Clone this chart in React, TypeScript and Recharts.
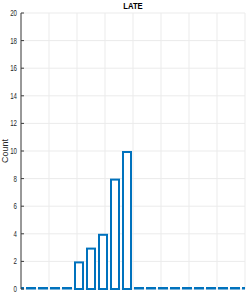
import React from 'react';
import { BarChart, Bar, XAxis, YAxis, CartesianGrid, Label } from 'recharts';

const binCenters = [-0.5, 2.5, 5.5, 8.5, 11.5, 14.5, 17.5, 20.5, 23.5, 26.5, 29.5, 32.5, 35.5, 38.5, 41.5, 44.5, 47.5, 50.5, 53.5, 56.5];
const counts = [0, 0, 0, 0, 0, 2, 3, 4, 8, 10, 0, 0, 0, 0, 0, 0, 0, 0, 0, 0];
const xTicks = [0, 7, 14, 21, 28, 35, 42, 49, 56];
const yTicks = [0, 2, 4, 6, 8, 10, 12, 14, 16, 18, 20];
const title = 'LATE';
const yLabel = 'Count';

const data = binCenters.map((c, i) => ({ x: c, count: counts[i] }));

const BLUE = '#0072BD';
const AXIS = '#3c3c3c';
const FONT = "'Liberation Sans', Arial, sans-serif";

const BarShape = (props: any) => {
  const { x, y, width, height } = props;
  if (!(height > 0.5)) {
    return <rect x={x} y={y - 2} width={width} height={2.5} fill={BLUE} />;
  }
  return (
    <rect x={x + 1} y={y + 1} width={width - 2} height={height - 1} fill="#ffffff" stroke={BLUE} strokeWidth={2} />
  );
};

const LeftTick = (props: any) => {
  const { x, y, payload } = props;
  const ax = x + 4;
  return (
    <g>
      <line x1={ax} x2={ax + 3} y1={y} y2={y} stroke={AXIS} strokeWidth={1} />
      <text
        transform={`translate(${x},${y + 3}) scale(0.68,1)`}
        textAnchor="end"
        fontSize={9}
        fontFamily={FONT}
        fill="#262626"
      >
        {payload.value}
      </text>
    </g>
  );
};

const RightTick = (props: any) => {
  const { x, y } = props;
  return <line x1={x - 3} x2={x} y1={y} y2={y} stroke={AXIS} strokeWidth={1} />;
};

const TopTick = (props: any) => {
  const { x, y } = props;
  return <line x1={x} x2={x} y1={y} y2={y + 3} stroke={AXIS} strokeWidth={1} />;
};

const BottomTick = (props: any) => {
  const { x, y } = props;
  return <line x1={x} x2={x} y1={y - 3} y2={y} stroke={AXIS} strokeWidth={1} />;
};

const YLabelContent = (props: any) => {
  const vb = props.viewBox || { x: 0, y: 0, width: 0, height: 0 };
  const cx = 7.5;
  const cy = vb.y + vb.height / 2;
  return (
    <text
      x={cx}
      y={cy}
      transform={`rotate(-90, ${cx}, ${cy})`}
      textAnchor="middle"
      fontSize={9}
      fontFamily={FONT}
      fill="#262626"
    >
      {yLabel}
    </text>
  );
};

export default function App() {
  return (
    <div style={{ position: 'absolute', left: 0, top: 0, width: 246, height: 294, background: '#fff' }}>
      <BarChart
        width={246}
        height={294}
        data={data}
        margin={{ top: 13, right: 1, bottom: 5, left: 0 }}
        barSize={10}
      >
        <CartesianGrid stroke="#ebebeb" strokeWidth={1} horizontalValues={yTicks} verticalValues={xTicks} />
        <XAxis
          dataKey="x"
          type="number"
          domain={[0, 56]}
          ticks={xTicks}
          allowDataOverflow
          height={0}
          tickSize={0}
          tickMargin={0}
          tickLine={false}
          tick={<BottomTick />}
          axisLine={{ stroke: AXIS }}
          interval={0}
        />
        <XAxis
          xAxisId="top"
          orientation="top"
          type="number"
          domain={[0, 56]}
          ticks={xTicks}
          allowDataOverflow
          height={0}
          tickSize={0}
          tickMargin={0}
          tickLine={false}
          tick={<TopTick />}
          axisLine={{ stroke: AXIS }}
          interval={0}
        />
        <YAxis
          type="number"
          domain={[0, 20]}
          ticks={yTicks}
          width={21}
          tickSize={0}
          tickMargin={4}
          tickLine={false}
          tick={<LeftTick />}
          axisLine={{ stroke: AXIS }}
          interval={0}
        >
          <Label content={<YLabelContent />} />
        </YAxis>
        <YAxis
          yAxisId="right"
          orientation="right"
          type="number"
          domain={[0, 20]}
          ticks={yTicks}
          width={0}
          tickSize={0}
          tickMargin={0}
          tickLine={false}
          tick={<RightTick />}
          axisLine={{ stroke: AXIS }}
          interval={0}
        />
        <Bar dataKey="count" shape={<BarShape />} isAnimationActive={false} />
      </BarChart>
      <svg width={246} height={14} style={{ position: 'absolute', left: 0, top: 0 }}>
        <text
          transform="translate(133,9) scale(0.85,1)"
          textAnchor="middle"
          fontSize={9}
          fontWeight="bold"
          fontFamily={FONT}
          fill="#000"
        >
          {title}
        </text>
      </svg>
    </div>
  );
}
